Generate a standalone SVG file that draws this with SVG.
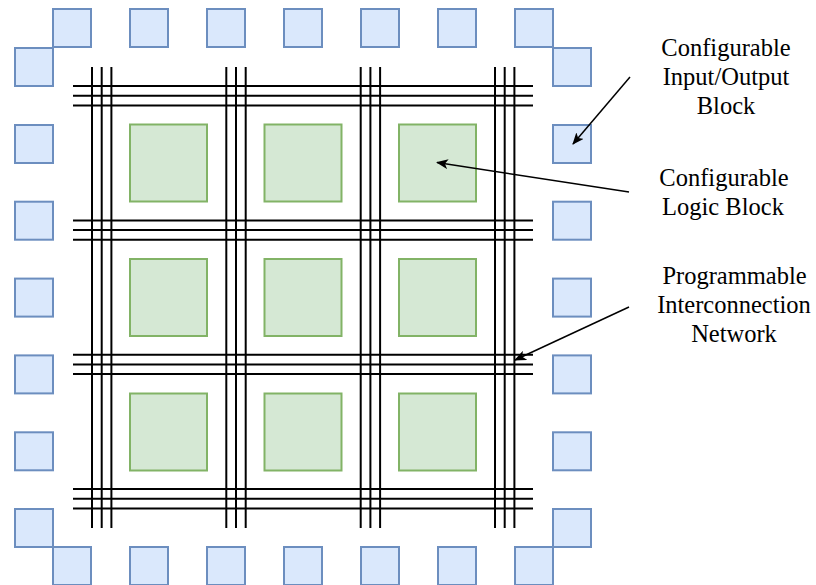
<svg xmlns="http://www.w3.org/2000/svg" width="816" height="585" viewBox="0 0 816 585">
  <style>
    .io { fill: #dae8fc; stroke: #6c8ebf; stroke-width: 2; }
    .clb { fill: #d5e8d4; stroke: #82b366; stroke-width: 2; }
    .wire { stroke: #000000; stroke-width: 2; fill: none; }
    .arrow { stroke: #000000; stroke-width: 1.5; fill: none; marker-end: url(#classic); }
    .label { font-size: 24.5px; fill: #000000; text-anchor: middle; }
  </style>
  <defs>
    <marker id="classic" viewBox="0 0 12 10" refX="11" refY="5" markerWidth="12" markerHeight="10" markerUnits="userSpaceOnUse" orient="auto">
      <path d="M0,0 L12,5 L0,10 L3,5 Z" fill="#000000"/>
    </marker>
    <rect id="ioBox" width="38" height="38" class="io"/>
    <g id="vBundle">
      <line x1="0" y1="67" x2="0" y2="528" class="wire"/>
      <line x1="9.7" y1="67" x2="9.7" y2="528" class="wire"/>
      <line x1="19.4" y1="67" x2="19.4" y2="528" class="wire"/>
    </g>
    <g id="hBundle">
      <line x1="73" y1="0" x2="533" y2="0" class="wire"/>
      <line x1="73" y1="9.7" x2="533" y2="9.7" class="wire"/>
      <line x1="73" y1="19.4" x2="533" y2="19.4" class="wire"/>
    </g>
  </defs>
  <rect width="816" height="585" fill="#ffffff"/>

  <!-- I/O blocks along the top edge -->
  <g id="io-top">
    <use href="#ioBox" x="53" y="9"/>
    <use href="#ioBox" x="130" y="9"/>
    <use href="#ioBox" x="207" y="9"/>
    <use href="#ioBox" x="284" y="9"/>
    <use href="#ioBox" x="361" y="9"/>
    <use href="#ioBox" x="438" y="9"/>
    <use href="#ioBox" x="515" y="9"/>
  </g>
  <!-- I/O blocks along the bottom edge -->
  <g id="io-bottom">
    <use href="#ioBox" x="53" y="547"/>
    <use href="#ioBox" x="130" y="547"/>
    <use href="#ioBox" x="207" y="547"/>
    <use href="#ioBox" x="284" y="547"/>
    <use href="#ioBox" x="361" y="547"/>
    <use href="#ioBox" x="438" y="547"/>
    <use href="#ioBox" x="515" y="547"/>
  </g>
  <!-- I/O blocks along the left edge -->
  <g id="io-left">
    <use href="#ioBox" x="15" y="48"/>
    <use href="#ioBox" x="15" y="125"/>
    <use href="#ioBox" x="15" y="201.7"/>
    <use href="#ioBox" x="15" y="278.6"/>
    <use href="#ioBox" x="15" y="355.4"/>
    <use href="#ioBox" x="15" y="432.3"/>
    <use href="#ioBox" x="15" y="509"/>
  </g>
  <!-- I/O blocks along the right edge -->
  <g id="io-right">
    <use href="#ioBox" x="553" y="48"/>
    <use href="#ioBox" x="553" y="125"/>
    <use href="#ioBox" x="553" y="201.7"/>
    <use href="#ioBox" x="553" y="278.6"/>
    <use href="#ioBox" x="553" y="355.4"/>
    <use href="#ioBox" x="553" y="432.3"/>
    <use href="#ioBox" x="553" y="509"/>
  </g>

  <!-- Programmable interconnect: vertical and horizontal wire bundles -->
  <g id="interconnect">
    <use href="#vBundle" x="92" y="0"/>
    <use href="#vBundle" x="226.3" y="0"/>
    <use href="#vBundle" x="360.7" y="0"/>
    <use href="#vBundle" x="495" y="0"/>
    <use href="#hBundle" x="0" y="86"/>
    <use href="#hBundle" x="0" y="220.4"/>
    <use href="#hBundle" x="0" y="354.7"/>
    <use href="#hBundle" x="0" y="489"/>
  </g>

  <!-- Configurable logic blocks, 3 x 3 -->
  <g id="clb-1-1"><rect x="130" y="124.5" width="77" height="77" class="clb"/></g>
  <g id="clb-1-2"><rect x="264.5" y="124.5" width="77" height="77" class="clb"/></g>
  <g id="clb-1-3"><rect x="399" y="124.5" width="77" height="77" class="clb"/></g>
  <g id="clb-2-1"><rect x="130" y="259" width="77" height="77" class="clb"/></g>
  <g id="clb-2-2"><rect x="264.5" y="259" width="77" height="77" class="clb"/></g>
  <g id="clb-2-3"><rect x="399" y="259" width="77" height="77" class="clb"/></g>
  <g id="clb-3-1"><rect x="130" y="393.5" width="77" height="77" class="clb"/></g>
  <g id="clb-3-2"><rect x="264.5" y="393.5" width="77" height="77" class="clb"/></g>
  <g id="clb-3-3"><rect x="399" y="393.5" width="77" height="77" class="clb"/></g>

  <!-- Callout labels -->
  <g id="labels" font-family="'Liberation Serif', 'DejaVu Serif', serif">
    <g id="label-io">
      <text class="label" x="726" y="56">Configurable</text>
      <text class="label" x="726" y="85">Input/Output</text>
      <text class="label" x="726" y="113.5">Block</text>
    </g>
    <g id="label-clb">
      <text class="label" x="724" y="186">Configurable</text>
      <text class="label" x="723" y="215">Logic Block</text>
    </g>
    <g id="label-net">
      <text class="label" x="734.5" y="284">Programmable</text>
      <text class="label" x="734" y="313">Interconnection</text>
      <text class="label" x="734" y="342">Network</text>
    </g>
  </g>

  <!-- Pointer arrows from labels -->
  <g id="connectors">
    <line class="arrow" x1="630" y1="77" x2="573" y2="144"/>
    <line class="arrow" x1="629" y1="192" x2="437" y2="162.5"/>
    <line class="arrow" x1="629" y1="307" x2="515" y2="360"/>
  </g>
</svg>
